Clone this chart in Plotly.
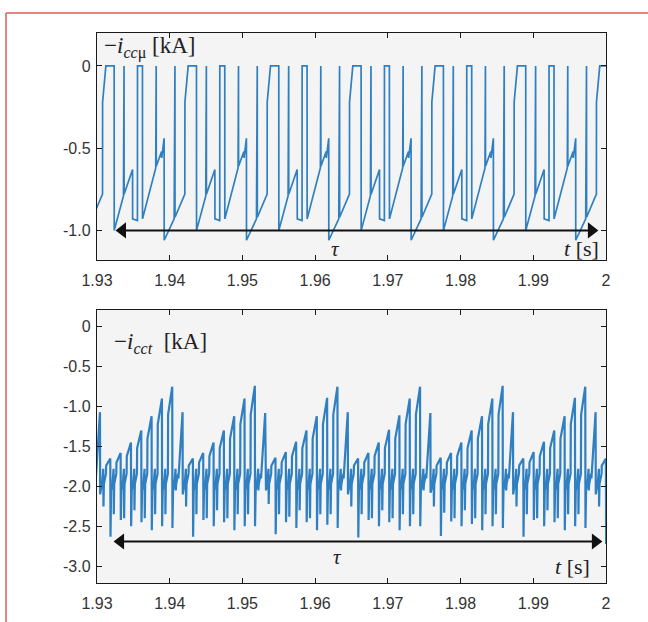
import plotly.graph_objects as go

# ---------------- data ----------------
x_tickvals = [1.93, 1.94, 1.95, 1.96, 1.97, 1.98, 1.99, 2.0]
x_ticktext = ["1.93", "1.94", "1.95", "1.96", "1.97", "1.98", "1.99", "2"]
top_y_tickvals = [-1.0, -0.5, 0.0]
top_y_ticktext = ["-1.0", "-0.5", "0"]
bot_y_tickvals = [-3.0, -2.5, -2.0, -1.5, -1.0, -0.5, 0.0]
bot_y_ticktext = ["-3.0", "-2.5", "-2.0", "-1.5", "-1.0", "-0.5", "0"]

# upper trace  -i_ccmu : start time of each repeated cycle (wide pulse rise)
top_cycle_start = [1.91944, 1.93076, 1.94208, 1.95340, 1.96472, 1.97604, 1.98736, 1.99868]
# one cycle of the waveform, time offset [s] and value [kA]
top_cycle_dt = [0.0, 0.00001, 0.00046, 0.00160, 0.00161, 0.00288, 0.00289, 0.00296,
                0.00297, 0.00413, 0.00414, 0.00480, 0.00481, 0.00549, 0.00550, 0.00732,
                0.00733, 0.00738, 0.00739, 0.00812, 0.00814, 0.00847, 0.00848, 0.00985,
                0.00986, 0.00996, 0.00997, 0.01131]
top_cycle_val = [-0.78, -0.22, 0.0, 0.0, -1.0, -0.79, 0.0, 0.0,
                 -0.78, -0.63, -0.93, -0.94, 0.0, 0.0, -0.93, -0.62,
                 0.0, 0.0, -0.61, -0.52, -0.56, -0.44, -1.06, -0.93,
                 0.0, 0.0, -0.92, -0.79]

# lower trace -i_cct : sawtooth teeth of equal length
bot_first_tooth = 1.92930
bot_tooth_len = 0.00142
bot_peaks = [-1.07, -1.65, -1.58, -1.45, -1.30, -1.12, -0.90,
             -0.75, -1.07, -1.65, -1.58, -1.45, -1.30, -1.12, -0.90,
             -0.74, -1.08, -1.64, -1.57, -1.44, -1.30, -1.12, -0.89,
             -0.75, -1.07, -1.65, -1.58, -1.45, -1.29, -1.11, -0.90,
             -0.75, -1.08, -1.64, -1.58, -1.45, -1.30, -1.12, -0.90,
             -0.74, -1.07, -1.65, -1.57, -1.44, -1.30, -1.12, -0.89,
             -0.75, -1.07, -1.65]
# level where the rising edge of each tooth turns into the ramp
bot_knee = [-1.90, -1.74, -1.70, -1.62, -1.52, -1.40, -1.22,
            -1.10, -1.90, -1.74, -1.70, -1.62, -1.52, -1.40, -1.22,
            -1.10, -1.90, -1.74, -1.70, -1.62, -1.52, -1.40, -1.22,
            -1.10, -1.90, -1.74, -1.70, -1.62, -1.52, -1.40, -1.22,
            -1.10, -1.90, -1.74, -1.70, -1.62, -1.52, -1.40, -1.22,
            -1.10, -1.90, -1.74, -1.70, -1.62, -1.52, -1.40, -1.22,
            -1.10, -1.90, -1.74]
bot_drops = [-2.10, -2.63, -2.42, -2.50, -2.45, -2.55, -2.50,
             -2.52, -2.10, -2.63, -2.42, -2.50, -2.45, -2.55, -2.50,
             -2.50, -2.05, -2.60, -2.45, -2.52, -2.45, -2.55, -2.48,
             -2.52, -2.10, -2.64, -2.42, -2.50, -2.45, -2.55, -2.50,
             -2.50, -2.08, -2.62, -2.44, -2.50, -2.47, -2.55, -2.50,
             -2.52, -2.10, -2.63, -2.42, -2.50, -2.45, -2.55, -2.50,
             -2.52, -2.10, -2.72]
bot_short = [-2.05, -2.25, -2.35, -2.40, -2.30, -2.40, -2.35,
             -2.35, -2.05, -2.25, -2.35, -2.40, -2.30, -2.40, -2.35,
             -2.35, -2.05, -2.22, -2.35, -2.38, -2.30, -2.40, -2.35,
             -2.35, -2.05, -2.25, -2.35, -2.40, -2.30, -2.40, -2.35,
             -2.35, -2.05, -2.25, -2.33, -2.40, -2.30, -2.40, -2.35,
             -2.35, -2.05, -2.25, -2.35, -2.40, -2.30, -2.40, -2.35,
             -2.35, -2.05, -2.25]
# fractions of a tooth: zigzag, short drop, recovery, knee, peak, deep drop, recovery
bot_tooth_frac = [0.0, 0.10, 0.12, 0.16, 0.36, 0.38, 0.78, 0.80, 0.86]
bot_tooth_base = [-1.95, -1.78, None, -1.97, -1.84, None, None, None, -2.05]

# arrows (tau span)
top_arrow = dict(y=-1.0, x0=1.93261, x1=1.99889)
bot_arrow = dict(y=-2.69, x0=1.93234, x1=1.99944)

# ---------------- build traces ----------------
top_t, top_v = [], []
for t0 in top_cycle_start:
    for dt, v in zip(top_cycle_dt, top_cycle_val):
        top_t.append(round(t0 + dt, 6))
        top_v.append(v)

bot_t, bot_v = [], []
for k, (p, q, b, s) in enumerate(zip(bot_peaks, bot_knee, bot_drops, bot_short)):
    t0 = bot_first_tooth + k * bot_tooth_len
    vals = list(bot_tooth_base)
    vals[2] = s
    vals[5] = q
    vals[6] = p
    vals[7] = b
    for f, v in zip(bot_tooth_frac, vals):
        bot_t.append(round(t0 + f * bot_tooth_len, 6))
        bot_v.append(v)

line_color = "#2f7fc1"
fig = go.Figure()
fig.add_trace(go.Scatter(x=top_t, y=top_v, mode="lines", xaxis="x", yaxis="y",
                         line=dict(color=line_color, width=1.7), showlegend=False, hoverinfo="skip"))
fig.add_trace(go.Scatter(x=bot_t, y=bot_v, mode="lines", xaxis="x2", yaxis="y2",
                         line=dict(color=line_color, width=2.2), showlegend=False, hoverinfo="skip"))

# arrow heads
head_dx = 0.00090
for arr, xa, ya in [(top_arrow, "x", "y"), (bot_arrow, "x2", "y2")]:
    fig.add_trace(go.Scatter(x=[arr["x0"] + head_dx, arr["x1"] - head_dx], y=[arr["y"], arr["y"]],
                             mode="markers", xaxis=xa, yaxis=ya, showlegend=False, hoverinfo="skip",
                             marker=dict(symbol=["triangle-left", "triangle-right"], size=14,
                                         color="#111111", line=dict(width=0))))

W, H = 648, 622
xl, xr = 97 / W, 606 / W
tick_font = dict(family="Liberation Sans, Arial, sans-serif", size=16, color="#333333")
axis_common = dict(showline=True, linecolor="#1a1a1a", linewidth=1.2, mirror="ticks",
                   ticks="inside", ticklen=5, tickcolor="#1a1a1a", showgrid=False,
                   zeroline=False, tickfont=tick_font, automargin=False)

fig.update_layout(
    template="none",
    width=W, height=H,
    margin=dict(l=0, r=0, t=0, b=0, pad=0, autoexpand=False),
    paper_bgcolor="white",
    plot_bgcolor="#f4f4f4",
    showlegend=False,
    xaxis=dict(domain=[xl, xr], anchor="y", range=[1.93, 2.0],
               tickvals=x_tickvals, ticktext=x_ticktext, ticklabelstandoff=6, **axis_common),
    yaxis=dict(domain=[1 - 260 / H, 1 - 33 / H], anchor="x", range=[-1.18, 0.2],
               tickvals=top_y_tickvals, ticktext=top_y_ticktext, ticklabelstandoff=2, **axis_common),
    xaxis2=dict(domain=[xl, xr], anchor="y2", range=[1.93, 2.0],
                tickvals=x_tickvals, ticktext=x_ticktext, ticklabelstandoff=6, **axis_common),
    yaxis2=dict(domain=[1 - 583 / H, 1 - 310 / H], anchor="x2", range=[-3.21, 0.21],
                tickvals=bot_y_tickvals, ticktext=bot_y_ticktext, ticklabelstandoff=2, **axis_common),
)

serif = "Liberation Serif, Times New Roman, serif"
ink = "#222222"
ann = [
    dict(x=102 / W, y=1 - 47 / H, xref="paper", yref="paper", xanchor="left", yanchor="middle",
         showarrow=False, text="−<i>i</i><sub><i>cc</i>μ</sub> [kA]", font=dict(family=serif, size=23, color=ink)),
    dict(x=112 / W, y=1 - 343 / H, xref="paper", yref="paper", xanchor="left", yanchor="middle",
         showarrow=False, text="−<i>i</i><sub><i>cct</i></sub>  [kA]", font=dict(family=serif, size=23, color=ink)),
    dict(x=335 / W, y=1 - 249 / H, xref="paper", yref="paper", xanchor="center", yanchor="middle",
         showarrow=False, text="<i>τ</i>", font=dict(family=serif, size=21, color=ink)),
    dict(x=337 / W, y=1 - 557 / H, xref="paper", yref="paper", xanchor="center", yanchor="middle",
         showarrow=False, text="<i>τ</i>", font=dict(family=serif, size=21, color=ink)),
    dict(x=601 / W, y=1 - 248 / H, xref="paper", yref="paper", xanchor="right", yanchor="middle",
         showarrow=False, text="<i>t</i> [s]", font=dict(family=serif, size=22, color=ink)),
    dict(x=592 / W, y=1 - 566 / H, xref="paper", yref="paper", xanchor="right", yanchor="middle",
         showarrow=False, text="<i>t</i> [s]", font=dict(family=serif, size=22, color=ink)),
]
fig.update_layout(annotations=ann)

shapes = [
    dict(type="line", xref="paper", yref="paper", x0=6 / W, x1=1, y0=1 - 13 / H, y1=1 - 13 / H,
         line=dict(color="#e05a5a", width=1.5)),
    dict(type="line", xref="paper", yref="paper", x0=6 / W, x1=6 / W, y0=0, y1=1 - 13 / H,
         line=dict(color="#e05a5a", width=1.5)),
]
for arr, xa, ya in [(top_arrow, "x", "y"), (bot_arrow, "x2", "y2")]:
    shapes.append(dict(type="line", xref=xa, yref=ya, x0=arr["x0"] + head_dx, x1=arr["x1"] - head_dx,
                       y0=arr["y"], y1=arr["y"], line=dict(color="#111111", width=2)))
fig.update_layout(shapes=shapes)

fig.write_html("out.html", config={"displayModeBar": False, "staticPlot": True},
               post_script="document.body.style.margin='0';document.body.style.overflow='hidden';")
